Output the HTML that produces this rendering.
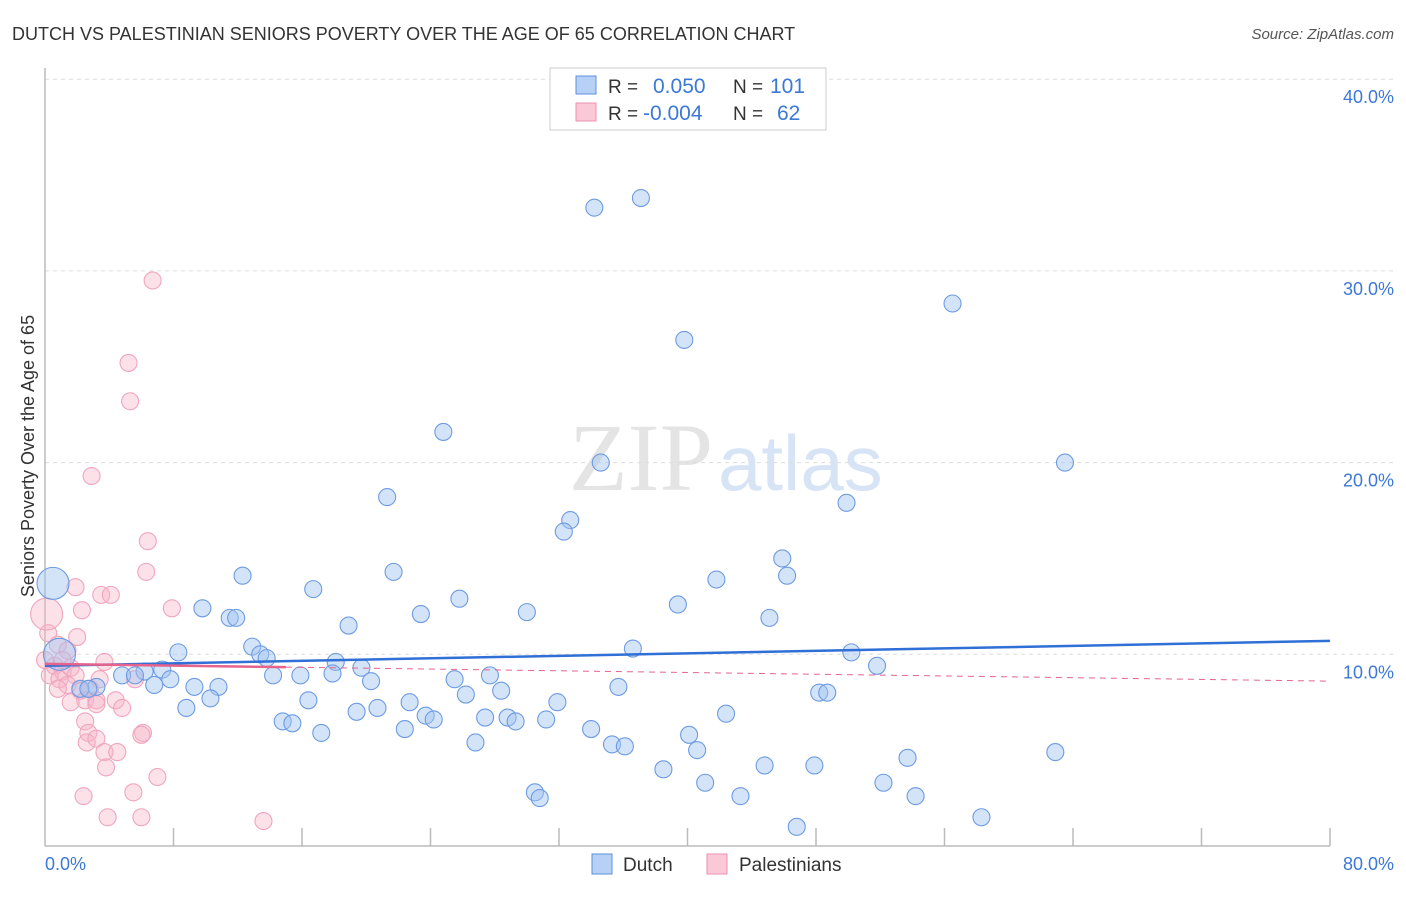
<!DOCTYPE html>
<html><head><meta charset="utf-8"><style>
body{margin:0;background:#fff;font-family:"Liberation Sans",sans-serif;}
svg text{font-family:"Liberation Sans",sans-serif;}
</style></head><body>
<svg width="1406" height="892" xmlns="http://www.w3.org/2000/svg">
<text x="12" y="40" font-size="18" fill="#333">DUTCH VS PALESTINIAN SENIORS POVERTY OVER THE AGE OF 65 CORRELATION CHART</text>
<text x="1394" y="39" font-size="15" fill="#555" text-anchor="end" font-style="italic">Source: ZipAtlas.com</text>
<text x="713" y="490" font-size="96" fill="#e4e4e4" text-anchor="end" style="font-family:'Liberation Serif',serif">ZIP</text>
<text x="718" y="490" font-size="78" fill="#d6e4f5">atlas</text>
<g id="grid"></g>
<g id="axes"></g>
<g id="pts"></g>
<g id="trend"></g>
<text transform="translate(34,456) rotate(-90)" font-size="18" fill="#333" text-anchor="middle">Seniors Poverty Over the Age of 65</text>
<text x="45" y="870" font-size="18" fill="#3b78d8">0.0%</text>
<text x="1394" y="870" font-size="18" fill="#3b78d8" text-anchor="end">80.0%</text>
<g>
<rect x="550" y="68" width="276" height="62" fill="#fff" stroke="#ccc"/>
<rect x="576" y="76" width="20" height="18" fill="#b7d0f5" stroke="#5b8fe0"/>
<rect x="576" y="103" width="20" height="18" fill="#fbc8d8" stroke="#ec8fae"/>
<text x="608" y="93" font-size="19" fill="#333">R = </text><text x="653" y="93" font-size="21" fill="#3b78d8">0.050</text>
<text x="733" y="93" font-size="19" fill="#333">N = </text><text x="770" y="93" font-size="21" fill="#3b78d8">101</text>
<text x="608" y="120" font-size="19" fill="#333">R = </text><text x="643" y="120" font-size="21" fill="#3b78d8">-0.004</text>
<text x="733" y="120" font-size="19" fill="#333">N = </text><text x="777" y="120" font-size="21" fill="#3b78d8">62</text>
</g>
<g>
<rect x="592" y="854" width="20" height="20" fill="#b7d0f5" stroke="#5b8fe0"/>
<text x="623" y="871" font-size="19" fill="#333">Dutch</text></g>
<g>
<rect x="707" y="854" width="20" height="20" fill="#fbc8d8" stroke="#ec8fae"/>
<text x="739" y="871" font-size="19" fill="#333">Palestinians</text></g>
</svg>
<script>
const yTicks=[10,20,30,40];
const yTickLabels=["10.0%","20.0%","30.0%","40.0%"];
const xTicks=[0,8,16,24,32,40,48,56,64,72,80];
const dutchX=[34.2,37.1,56.5,39.8,24.8,34.6,63.5,21.3,49.9,32.7,32.3,45.9,21.7,12.3,46.2,41.8,16.7,25.8,9.8,39.4,30.0,23.4,11.5,11.9,45.1,18.9,12.9,36.6,8.3,13.4,13.8,50.2,18.1,19.7,51.8,7.3,6.2,4.8,5.6,7.8,14.2,15.9,17.9,25.5,27.7,20.3,6.8,9.3,10.8,3.2,2.2,2.7,28.4,26.2,35.7,48.2,48.7,16.4,10.3,22.7,31.9,8.8,19.4,20.7,42.4,23.7,24.2,27.4,28.8,29.3,31.2,14.8,15.4,34.0,22.4,17.2,40.1,26.8,35.3,36.1,40.6,53.7,62.9,44.8,47.9,38.5,52.2,41.1,30.5,30.8,43.3,54.2,58.3,46.8];
const dutchY=[33.3,33.8,28.3,26.4,21.6,20.0,20.0,18.2,17.9,17.0,16.4,15.0,14.3,14.1,14.1,13.9,13.4,12.9,12.4,12.6,12.2,12.1,11.9,11.9,11.9,11.5,10.4,10.3,10.1,10.0,9.8,10.1,9.6,9.3,9.4,9.2,9.1,8.9,8.9,8.7,8.9,8.9,9.0,8.7,8.9,8.6,8.4,8.3,8.3,8.3,8.2,8.2,8.1,7.9,8.3,8.0,8.0,7.6,7.7,7.5,7.5,7.2,7.0,7.2,6.9,6.8,6.6,6.7,6.7,6.5,6.6,6.5,6.4,6.1,6.1,5.9,5.8,5.4,5.3,5.2,5.0,4.6,4.9,4.2,4.2,4.0,3.3,3.3,2.8,2.5,2.6,2.6,1.5,1.0];
const dutchBigX=[0.5,0.9];
const dutchBigY=[13.7,10.0];
const palX=[6.7,5.2,5.3,2.9,6.4,6.3,1.9,7.9,2.3,3.5,4.1,0.2,2.0,0.8,1.4,3.7,0.6,1.1,1.6,1.9,0.3,0.9,1.4,0.8,2.8,2.2,3.4,5.6,2.5,1.6,3.2,4.4,4.8,3.2,2.5,2.7,2.6,3.2,6.1,6.0,3.7,4.5,3.8,7.0,2.4,5.5,3.9,6.0,13.6,1.1,0.0];
const palY=[29.5,25.2,23.2,19.3,15.9,14.3,13.5,12.4,12.3,13.1,13.1,11.1,10.9,10.5,10.2,9.6,9.4,9.1,9.3,8.9,8.9,8.7,8.4,8.2,8.2,8.1,8.7,8.7,7.6,7.5,7.6,7.6,7.2,7.4,6.5,5.9,5.4,5.6,5.9,5.8,4.9,4.9,4.1,3.6,2.6,2.8,1.5,1.5,1.3,9.7,9.7];
const palBigX=[0.1];
const palBigY=[12.1];
const dutchTrend=[9.4,10.7];
const palTrend=[9.5,8.6];
const X0=45,X1=1330,Y0=846,PY=19.17;
const sx=v=>X0+(v/80)*(X1-X0);
const sy=v=>Y0-v*PY;
const NS="http://www.w3.org/2000/svg";
function mk(tag,attrs,parent){const e=document.createElementNS(NS,tag);for(const k in attrs)e.setAttribute(k,attrs[k]);document.getElementById(parent).appendChild(e);return e;}
yTicks.forEach((t,i)=>{
 const l=mk('line',{x1:X0,x2:1394,y1:sy(t),y2:sy(t),stroke:'#ddd','stroke-dasharray':'4,4'},'grid');
 
 
 const tx=mk('text',{x:1394,y:sy(t)+24,'font-size':18,fill:'#3b78d8','text-anchor':'end'},'grid');
 tx.textContent=yTickLabels[i];
 
 
});
const ya=mk('line',{x1:X0,x2:X0,y1:68,y2:Y0,stroke:'#bbb','stroke-width':1.5},'axes');


const xa=mk('line',{x1:X0,x2:X1,y1:Y0,y2:Y0,stroke:'#bbb','stroke-width':1.5},'axes');


xTicks.slice(1).forEach(t=>{
 const l=mk('line',{x1:sx(t),x2:sx(t),y1:Y0-18,y2:Y0,stroke:'#bbb','stroke-width':1.5},'axes');
 
 
});
function pts(xs,ys,r,fill,stroke,name){
 xs.forEach((x,i)=>{
  const c=mk('circle',{cx:sx(x),cy:sy(ys[i]),r:r,fill:fill,stroke:stroke,'stroke-width':1.1},'pts');
  
  
 });
}
pts(palX,palY,8.5,'rgba(248,180,200,0.4)','#f0a5bf','palestinian-point');
pts(palBigX,palBigY,16,'rgba(248,180,200,0.4)','#f0a5bf','palestinian-point');
pts(dutchX,dutchY,8.5,'rgba(160,195,240,0.45)','#6d9be2','dutch-point');
pts(dutchBigX,dutchBigY,16,'rgba(160,195,240,0.45)','#6d9be2','dutch-point');
const dt=mk('line',{x1:sx(0),x2:sx(80),y1:sy(dutchTrend[0]),y2:sy(dutchTrend[1]),stroke:'#2f6fd6','stroke-width':2.5},'trend');


const pm=palTrend[0]+(palTrend[1]-palTrend[0])*15/80;
const ps=mk('line',{x1:sx(0),x2:sx(15),y1:sy(palTrend[0]),y2:sy(pm),stroke:'#e5638c','stroke-width':2.5},'trend');


const pd=mk('line',{x1:sx(15),x2:sx(80),y1:sy(pm),y2:sy(palTrend[1]),stroke:'#e5638c','stroke-width':1,'stroke-dasharray':'6,5'},'trend');


</script>
</body></html>
